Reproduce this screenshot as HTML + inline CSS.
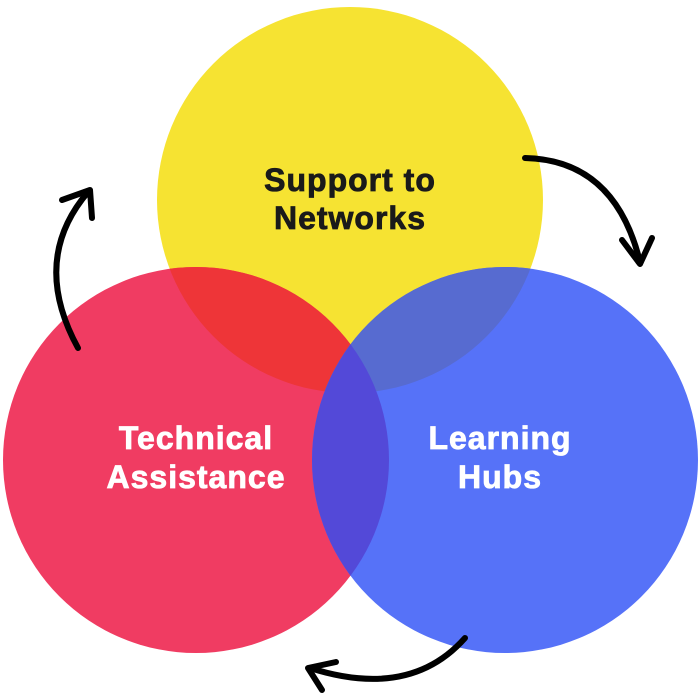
<!DOCTYPE html>
<html><head><style>body{margin:0;background:#fff}svg{display:block}</style></head><body>
<svg width="700" height="700" viewBox="0 0 700 700" xmlns="http://www.w3.org/2000/svg">
<defs>
<clipPath id="cy"><circle cx="350" cy="200" r="193"/></clipPath>
<clipPath id="cr"><circle cx="196" cy="460" r="193"/></clipPath>
</defs>
<circle cx="350" cy="200" r="193" fill="#f6e332"/>
<circle cx="196" cy="460" r="193" fill="#f03c62"/>
<circle cx="196" cy="460" r="193" fill="#ee3538" clip-path="url(#cy)"/>
<circle cx="505" cy="460" r="193" fill="#5672f8"/>
<circle cx="505" cy="460" r="193" fill="#576bd0" clip-path="url(#cy)"/>
<circle cx="505" cy="460" r="193" fill="#5349d8" clip-path="url(#cr)"/>
<g fill="none" stroke="#000" stroke-width="6" stroke-linecap="round" stroke-linejoin="round">
<path d="M525 158 Q615 160 640 262"/>
<path d="M622 240 L640 264 L652 238"/>
<path d="M78 348 Q30 260 88 192"/>
<path d="M62 200 L90 190 L92 218"/>
<path d="M465 638 Q410 700 310 668"/>
<path d="M336 662 L308 668 L322 690"/>
</g>
<g font-family="Liberation Sans, sans-serif" font-weight="bold" font-size="32" letter-spacing="1" text-anchor="middle" stroke-width="0.8">
<text x="350" y="191" fill="#1a1a1a" stroke="#1a1a1a">Support to</text>
<text x="350" y="229" fill="#1a1a1a" stroke="#1a1a1a">Networks</text>
<text x="196" y="449" fill="#fff" stroke="#fff">Technical</text>
<text x="196" y="488" fill="#fff" stroke="#fff">Assistance</text>
<text x="500" y="449" fill="#fff" stroke="#fff">Learning</text>
<text x="500" y="488" fill="#fff" stroke="#fff">Hubs</text>
</g>
</svg>
</body></html>
